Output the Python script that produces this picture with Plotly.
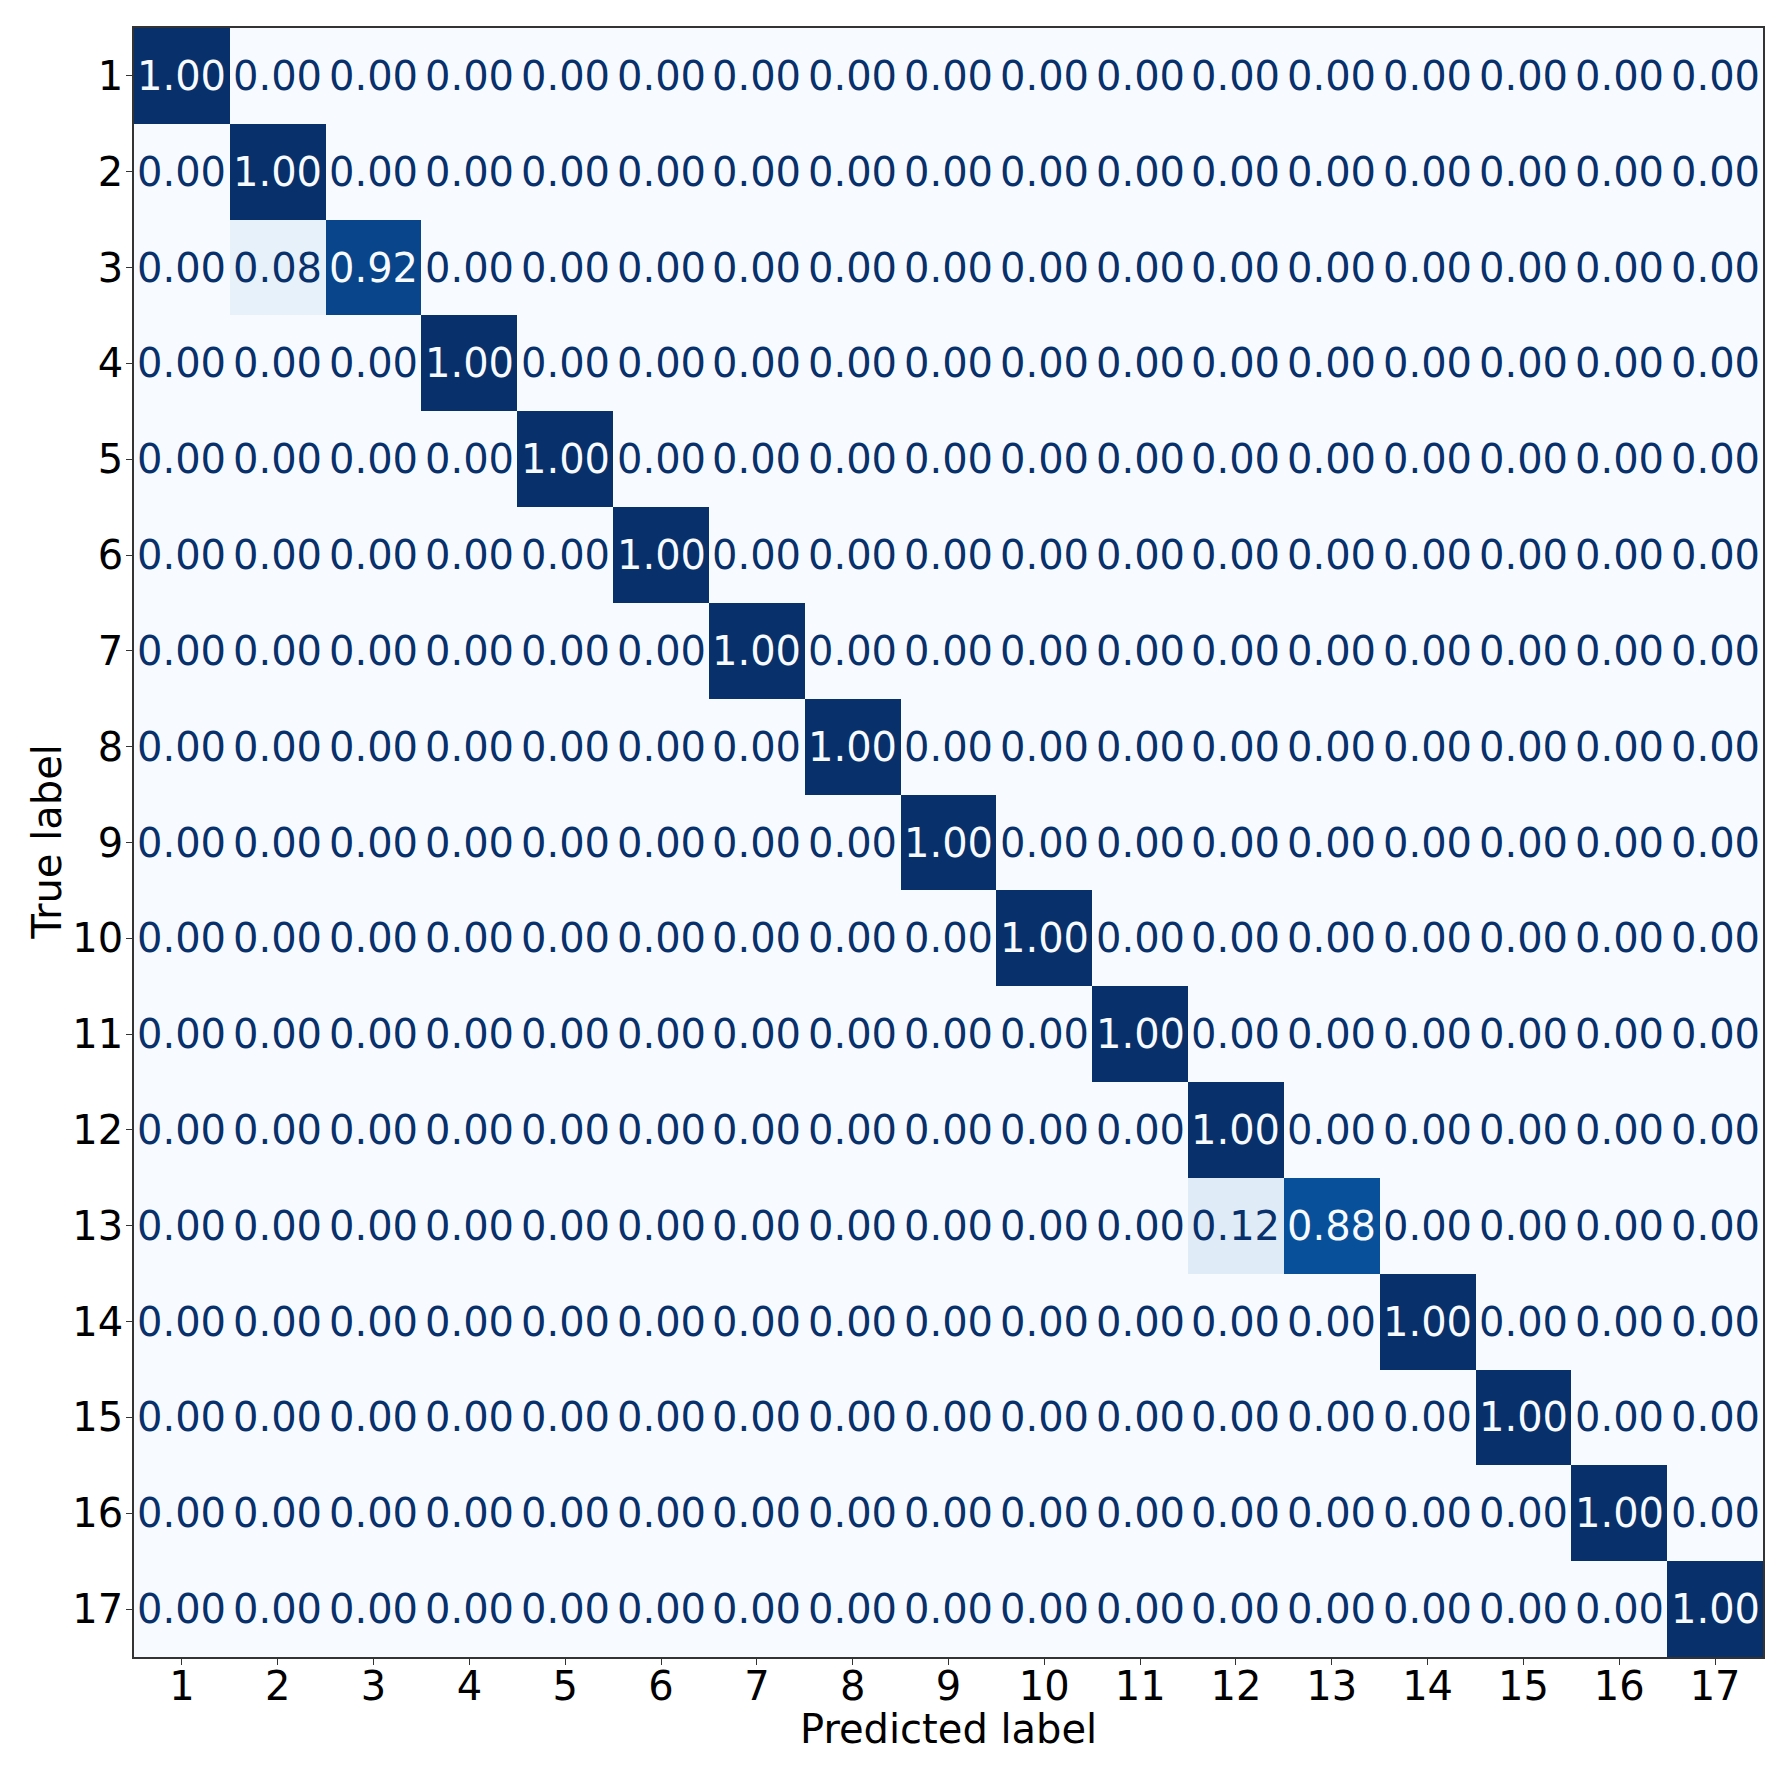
import plotly.graph_objects as go

labels = [str(i) for i in range(1, 18)]

# row = true label, column = predicted label
cm = [
    [1.00, 0.00, 0.00, 0.00, 0.00, 0.00, 0.00, 0.00, 0.00, 0.00, 0.00, 0.00, 0.00, 0.00, 0.00, 0.00, 0.00],
    [0.00, 1.00, 0.00, 0.00, 0.00, 0.00, 0.00, 0.00, 0.00, 0.00, 0.00, 0.00, 0.00, 0.00, 0.00, 0.00, 0.00],
    [0.00, 0.08, 0.92, 0.00, 0.00, 0.00, 0.00, 0.00, 0.00, 0.00, 0.00, 0.00, 0.00, 0.00, 0.00, 0.00, 0.00],
    [0.00, 0.00, 0.00, 1.00, 0.00, 0.00, 0.00, 0.00, 0.00, 0.00, 0.00, 0.00, 0.00, 0.00, 0.00, 0.00, 0.00],
    [0.00, 0.00, 0.00, 0.00, 1.00, 0.00, 0.00, 0.00, 0.00, 0.00, 0.00, 0.00, 0.00, 0.00, 0.00, 0.00, 0.00],
    [0.00, 0.00, 0.00, 0.00, 0.00, 1.00, 0.00, 0.00, 0.00, 0.00, 0.00, 0.00, 0.00, 0.00, 0.00, 0.00, 0.00],
    [0.00, 0.00, 0.00, 0.00, 0.00, 0.00, 1.00, 0.00, 0.00, 0.00, 0.00, 0.00, 0.00, 0.00, 0.00, 0.00, 0.00],
    [0.00, 0.00, 0.00, 0.00, 0.00, 0.00, 0.00, 1.00, 0.00, 0.00, 0.00, 0.00, 0.00, 0.00, 0.00, 0.00, 0.00],
    [0.00, 0.00, 0.00, 0.00, 0.00, 0.00, 0.00, 0.00, 1.00, 0.00, 0.00, 0.00, 0.00, 0.00, 0.00, 0.00, 0.00],
    [0.00, 0.00, 0.00, 0.00, 0.00, 0.00, 0.00, 0.00, 0.00, 1.00, 0.00, 0.00, 0.00, 0.00, 0.00, 0.00, 0.00],
    [0.00, 0.00, 0.00, 0.00, 0.00, 0.00, 0.00, 0.00, 0.00, 0.00, 1.00, 0.00, 0.00, 0.00, 0.00, 0.00, 0.00],
    [0.00, 0.00, 0.00, 0.00, 0.00, 0.00, 0.00, 0.00, 0.00, 0.00, 0.00, 1.00, 0.00, 0.00, 0.00, 0.00, 0.00],
    [0.00, 0.00, 0.00, 0.00, 0.00, 0.00, 0.00, 0.00, 0.00, 0.00, 0.00, 0.12, 0.88, 0.00, 0.00, 0.00, 0.00],
    [0.00, 0.00, 0.00, 0.00, 0.00, 0.00, 0.00, 0.00, 0.00, 0.00, 0.00, 0.00, 0.00, 1.00, 0.00, 0.00, 0.00],
    [0.00, 0.00, 0.00, 0.00, 0.00, 0.00, 0.00, 0.00, 0.00, 0.00, 0.00, 0.00, 0.00, 0.00, 1.00, 0.00, 0.00],
    [0.00, 0.00, 0.00, 0.00, 0.00, 0.00, 0.00, 0.00, 0.00, 0.00, 0.00, 0.00, 0.00, 0.00, 0.00, 1.00, 0.00],
    [0.00, 0.00, 0.00, 0.00, 0.00, 0.00, 0.00, 0.00, 0.00, 0.00, 0.00, 0.00, 0.00, 0.00, 0.00, 0.00, 1.00],
]

# matplotlib "Blues"
blues = ['#f7fbff', '#deebf7', '#c6dbef', '#9ecae1', '#6baed6',
         '#4292c6', '#2171b5', '#08519c', '#08306b']
scale = [[i / 8, c] for i, c in enumerate(blues)]

FONT = "DejaVu Sans"
fs = 40

fig = go.Figure(go.Heatmap(
    z=cm, x=list(range(1, 18)), y=list(range(1, 18)),
    colorscale=scale, zmin=0, zmax=1, showscale=False,
    hoverinfo="skip",
))

ann = []
for r in range(17):
    for c in range(17):
        v = cm[r][c]
        ann.append(dict(
            x=c + 1, y=r + 1, xref="x", yref="y", text=f"{v:.2f}",
            showarrow=False,
            font=dict(family=FONT, size=fs, color='#f7fbff' if v > 0.5 else '#08306b'),
        ))

# axis titles placed by hand
ann.append(dict(text="Predicted label", xref="paper", yref="paper", x=0.5, y=0,
                yanchor="middle", yshift=-72, showarrow=False,
                font=dict(family=FONT, size=fs, color="black")))
ann.append(dict(text="True label", xref="paper", yref="paper", x=0, y=0.5,
                xanchor="center", xshift=-88, textangle=-90, showarrow=False,
                font=dict(family=FONT, size=fs, color="black")))

# page body has an 8px margin, so the figure is 8px smaller and shifted
fig.update_layout(
    width=1778, height=1775,
    margin=dict(l=126, r=23, t=20, b=126),
    paper_bgcolor="white", plot_bgcolor="white",
    font=dict(family=FONT, size=fs, color="black"),
    annotations=ann,
    xaxis=dict(
        range=[0.5, 17.5], tickvals=list(range(1, 18)), ticktext=labels,
        ticks="outside", ticklen=6, tickcolor="#333", showgrid=False, automargin=False,
        zeroline=False, showline=True, linecolor="#333", linewidth=1.5, mirror=True,
        tickfont=dict(size=fs), ticklabelstandoff=-13,
    ),
    yaxis=dict(
        range=[17.5, 0.5], tickvals=list(range(1, 18)), ticktext=labels,
        ticks="outside", ticklen=6, tickcolor="#333", showgrid=False, automargin=False,
        zeroline=False, showline=True, linecolor="#333", linewidth=1.5, mirror=True,
        tickfont=dict(size=fs), ticklabelstandoff=-5,
    ),
)

fig.write_html("out.html")
